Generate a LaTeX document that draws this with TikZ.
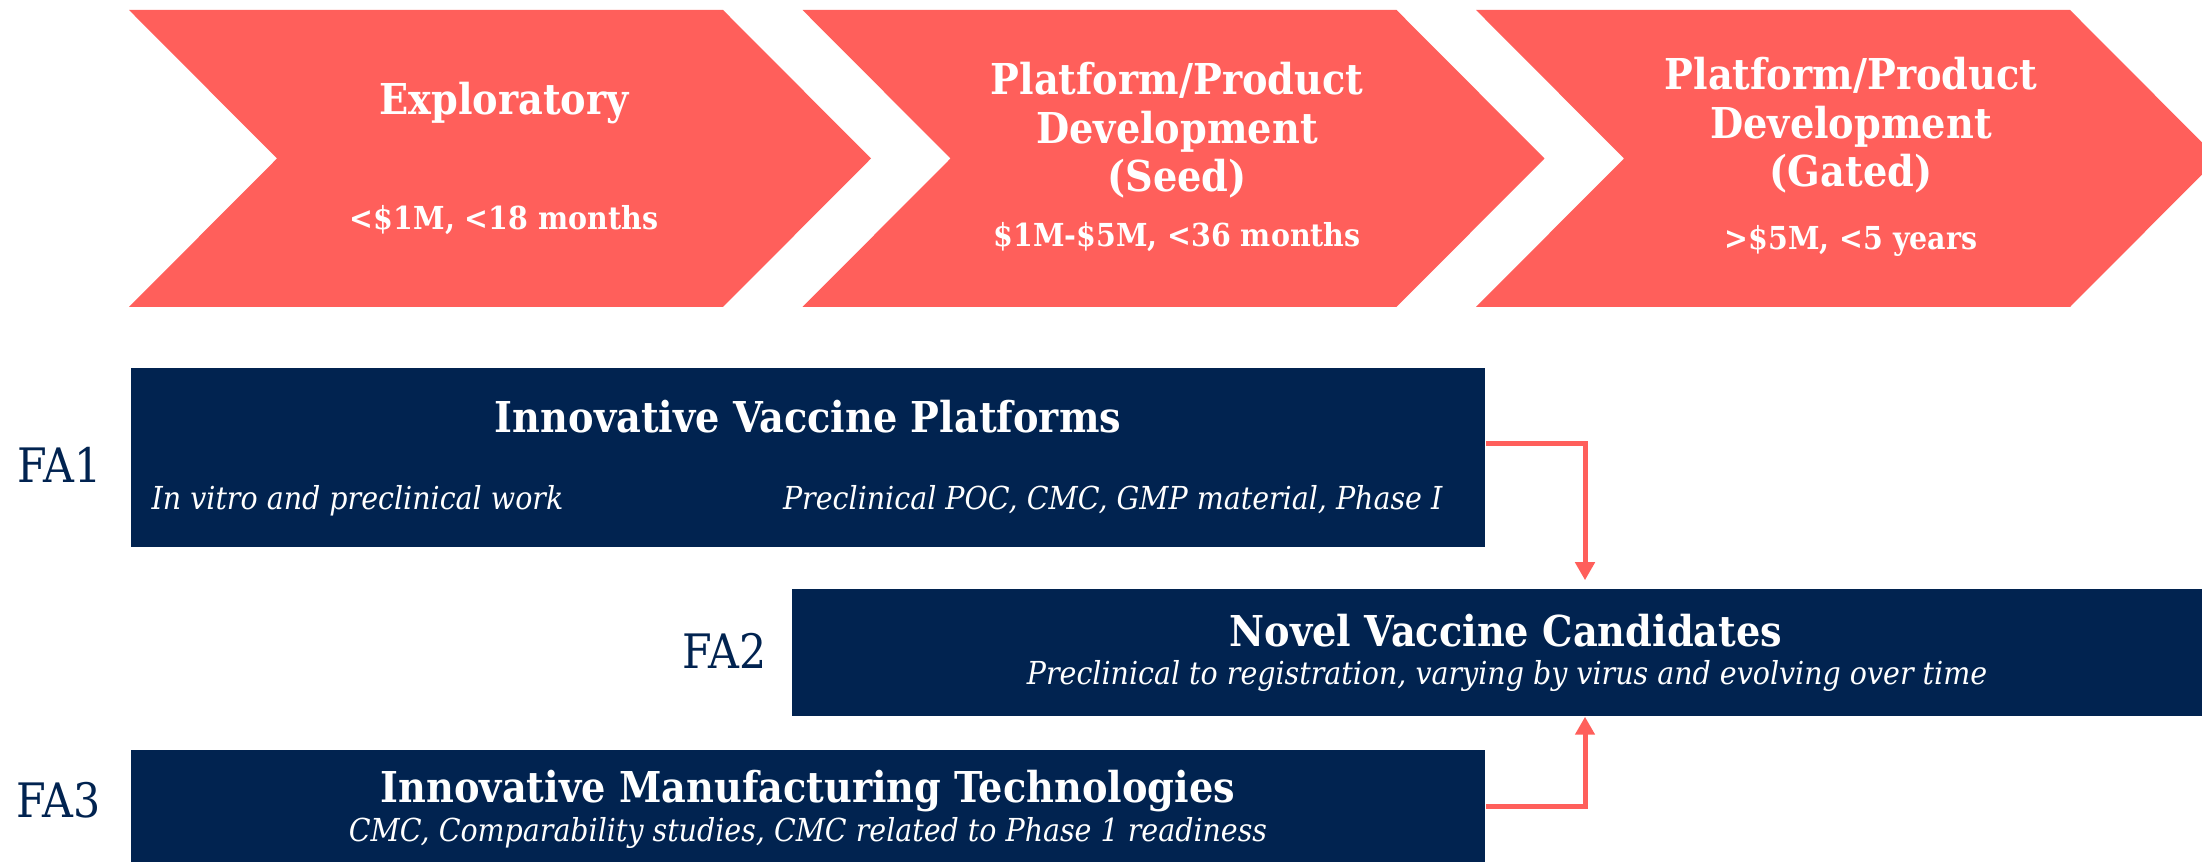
\documentclass[tikz,border=0pt]{standalone}
\usepackage{fontspec}
\setmainfont{DejaVu Serif}[FakeStretch=0.9]
\usetikzlibrary{arrows.meta}
\definecolor{coral}{RGB}{255,95,91}
\definecolor{navy}{RGB}{1,35,80}
\tikzset{
	phase_title/.style = {
		align=center,
		inner sep=0pt,
		text=white,
		font=\bfseries\fontsize{12.1}{13.9}\selectfont,
		anchor=base
	},
	phase_cost/.style = {
		phase_title,
		font=\bfseries\fontsize{9}{11}\selectfont
	},
	fa_box/.style = {
		rectangle,
		inner sep=0pt,
		fill=navy
	},
	fa_title/.style = {
		phase_title,
		font=\bfseries\fontsize{12.1}{13.4}\selectfont
	},
	fa_note/.style = {
		phase_title,
		font=\itshape\fontsize{9}{10}\selectfont
	},
	fa_label/.style = {
		inner sep=0pt,
		text=navy,
		font=\fontsize{13.5}{15}\selectfont,
		anchor=base west
	},
	link/.style = {
		draw=coral,
		line width=0.05cm,
		-{Triangle[length=0.18cm,width=0.19cm]}
	},
}
\begin{document}
\begin{tikzpicture}[x=0.01cm, y=-0.01cm]
\clip (0,0) rectangle (2202,862);
% phases
\foreach \i in {0,1,2} {
	\fill[coral] ({129+673.5*\i},10) -- ++(594,0) -- ++(148,148.5) -- ++(-148,148.5)
		-- ++(-594,0) -- ++(148,-148.5) -- cycle;
}
\node [phase_title] (explo) at (504,115) {Exploratory};
\node [phase_cost] (explo_cost) at (504,230) {<\$1M, <18 months};
\node [phase_title] (seed) at (1177,192) {Platform/Product\\Development\\(Seed)};
\node [phase_cost] (seed_cost) at (1177,247) {\$1M-\$5M, <36 months};
\node [phase_title] (gated) at (1851,187) {Platform/Product\\Development\\(Gated)};
\node [phase_cost] (gated_cost) at (1851,250) {>\$5M, <5 years};
% focus areas
\node [fa_box, minimum width=13.54cm, minimum height=1.79cm] (fa1) at (808,457.5) {};
\node [fa_box, minimum width=14.27cm, minimum height=1.27cm] (fa2) at (1506,652.5) {};
\node [fa_box, minimum width=13.54cm, minimum height=1.23cm] (fa3) at (808,811.5) {};
\node [fa_title] (fa1_title) at (808,433) {Innovative Vaccine Platforms};
\node [fa_note, anchor=base west] (fa1_left) at (151,510) {In vitro and preclinical work};
\node [fa_note, anchor=base east] (fa1_right) at (1443,510) {Preclinical POC, CMC, GMP material, Phase I};
\node [fa_title] (fa2_title) at (1506,647) {Novel Vaccine Candidates};
\node [fa_note] (fa2_note) at (1507,685) {Preclinical to registration, varying by virus and evolving over time};
\node [fa_title] (fa3_title) at (808,803) {Innovative Manufacturing Technologies};
\node [fa_note] (fa3_note) at (808,842) {CMC, Comparability studies, CMC related to Phase 1 readiness};
\node [fa_label] (fa1_label) at (17,483) {FA1};
\node [fa_label] (fa2_label) at (682,669) {FA2};
\node [fa_label] (fa3_label) at (16,818) {FA3};
% links
\coordinate (drop) at (1585,0);
\draw [link, shorten >=0.08cm] ([yshift=0.135cm]fa1.east) -| (drop |- fa2.north);
\draw [link] ([yshift=0.045cm]fa3.east) -| (drop |- fa2.south);
\end{tikzpicture}
\end{document}
